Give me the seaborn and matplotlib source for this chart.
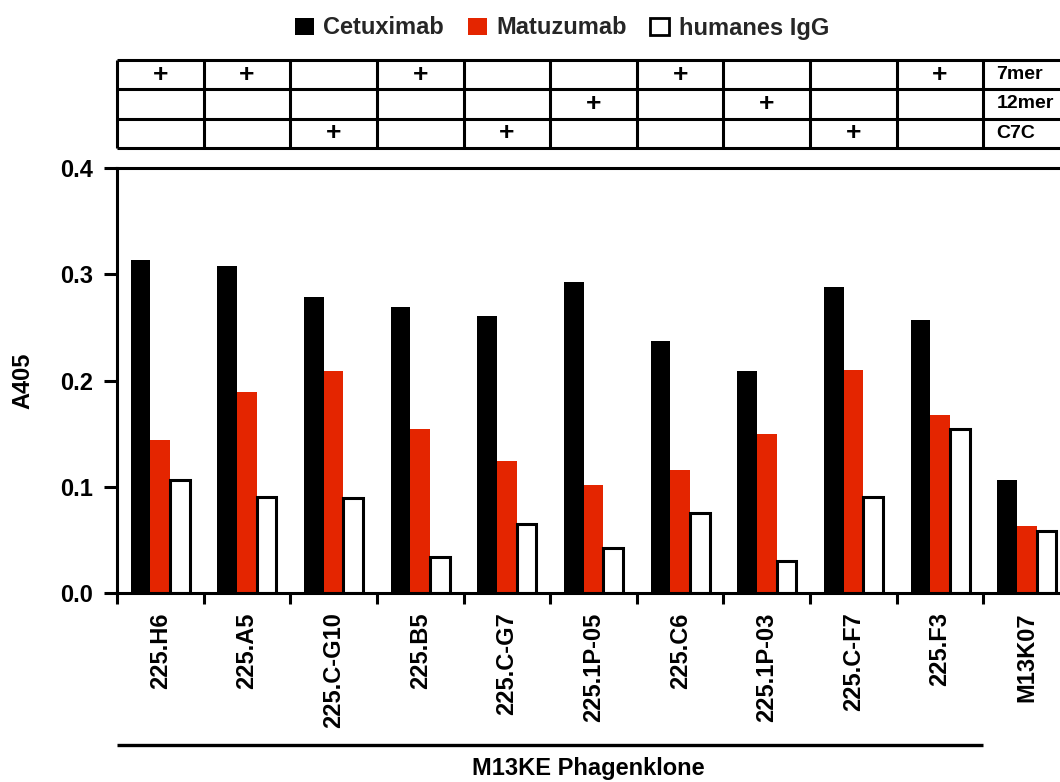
import numpy as np
import pandas as pd
import seaborn as sns
import matplotlib
matplotlib.use("Agg")
import matplotlib.pyplot as plt
from matplotlib.patches import Patch
from matplotlib import font_manager
import matplotlib.transforms as mtransforms

# ---------------- data ----------------
clones = ["225.H6", "225.A5", "225.C-G10", "225.B5", "225.C-G7", "225.1P-05",
          "225.C6", "225.1P-03", "225.C-F7", "225.F3", "M13K07"]
cetuximab = [0.313, 0.308, 0.279, 0.269, 0.261, 0.293, 0.237, 0.209, 0.288, 0.257, 0.106]
matuzumab = [0.144, 0.189, 0.209, 0.154, 0.124, 0.102, 0.116, 0.150, 0.210, 0.168, 0.063]
human_igg = [0.106, 0.090, 0.089, 0.034, 0.065, 0.042, 0.075, 0.030, 0.090, 0.154, 0.058]
antibodies = ["Cetuximab", "Matuzumab", "humanes IgG"]
colors = ["#000000", "#E42500", "#FFFFFF"]

library_labels = ["7mer", "12mer", "C7C"]
lib_7mer = [1, 1, 0, 1, 0, 0, 1, 0, 0, 1]
lib_12mer = [0, 0, 0, 0, 0, 1, 0, 1, 0, 0]
lib_c7c = [0, 0, 1, 0, 1, 0, 0, 0, 1, 0]

y_ticks = [0.0, 0.1, 0.2, 0.3, 0.4]

df = pd.DataFrame({
    "clone": clones * 3,
    "A405": cetuximab + matuzumab + human_igg,
    "antibody": sum([[a] * len(clones) for a in antibodies], []),
})

# ---------------- style ----------------
sns.set_theme(style="white")
available = {f.name for f in font_manager.fontManager.ttflist}
if "Liberation Sans Narrow" in available:
    main_font = "Liberation Sans Narrow"
    FS = 21          # main text size
    FS_TAB = 17      # table row labels
    FS_PLUS = 20
elif "DejaVu Sans Condensed" in available:
    main_font = "DejaVu Sans Condensed"
    FS = 18
    FS_TAB = 14
    FS_PLUS = 19
else:
    main_font = "Liberation Sans"
    FS = 17
    FS_TAB = 14
    FS_PLUS = 19
plt.rcParams["font.family"] = [main_font, "Liberation Sans", "DejaVu Sans"]
plt.rcParams["font.weight"] = "bold"
plt.rcParams["axes.labelweight"] = "bold"

W, H = 1060, 782
fig = plt.figure(figsize=(W / 100, H / 100), dpi=100)

ax_left = 117 / W
ax_width = (1070 - 117) / W
ax = fig.add_axes([ax_left, (H - 593) / H, ax_width, (593 - 168) / H])

sns.barplot(data=df, x="clone", y="A405", hue="antibody", order=clones,
            hue_order=antibodies, palette=colors, saturation=1, width=0.68,
            errorbar=None, legend=False, ax=ax)

for i, cont in enumerate(ax.containers):
    for bar in cont:
        if i == 2:
            bar.set_edgecolor("black")
            bar.set_linewidth(2.2)
        else:
            bar.set_linewidth(0)

ax.set_xlim(-0.5, len(clones) - 0.5)
ax.set_ylim(0, 0.4)
ax.set_yticks(y_ticks)
ax.set_yticklabels([f"{v:.1f}" for v in y_ticks], fontsize=FS, fontweight="bold")
ax.set_xticks(range(len(clones)))
ax.set_xticklabels(clones, rotation=90, fontsize=FS, fontweight="bold", va="top")
ax.set_xticks(np.arange(-0.5, len(clones) - 0.5, 1), minor=True)
ax.tick_params(axis="x", which="major", length=0, pad=14, colors="black")
ax.tick_params(axis="x", which="minor", length=8, width=2.2, direction="out",
               bottom=True, color="black")
ax.tick_params(axis="y", length=9.5, width=2.2, pad=8, left=True, colors="black")

for side in ["left", "bottom", "top"]:
    ax.spines[side].set_visible(True)
    ax.spines[side].set_linewidth(2.2)
    ax.spines[side].set_color("black")
ax.spines["right"].set_visible(False)

ax.set_ylabel("A405", fontsize=FS, fontweight="bold", color="black")
ax.yaxis.label.set_verticalalignment("center")
ax.yaxis.set_label_coords((23 - 117) / (1070 - 117), 0.5)

ax.set_xlabel("M13KE Phagenklone", fontsize=FS, fontweight="bold", color="black")
ax.xaxis.label.set_verticalalignment("center")
ax.xaxis.set_label_coords((588 - 117) / (1070 - 117), (593 - 768) / (593 - 168))

# bracket line under the phage clones
trans = mtransforms.blended_transform_factory(ax.transData, ax.transAxes)
ax.plot([-0.5, 9.5], [(593 - 745) / (593 - 168)] * 2, color="black", lw=2.4,
        transform=trans, clip_on=False, solid_capstyle="butt")

# ---------------- library table ----------------
tab = fig.add_axes([ax_left, (H - 148) / H, ax_width, (148 - 60) / H])
tab.set_xlim(ax.get_xlim())
tab.set_ylim(0, 3)
tab.axis("off")
for yy in [0, 1, 2, 3]:
    tab.plot([-0.5, 10.6], [yy, yy], color="black", lw=2.2, clip_on=False,
             solid_capstyle="butt")
for xx in np.arange(-0.5, 10.0, 1):
    tab.plot([xx, xx], [0, 3], color="black", lw=2.2, clip_on=False,
             solid_capstyle="butt")

rows = [lib_7mer, lib_12mer, lib_c7c]
for r, (vals, lab) in enumerate(zip(rows, library_labels)):
    yc = 2.5 - r
    for c, v in enumerate(vals):
        if v:
            tab.text(c, yc, "+", ha="center", va="center", fontsize=FS_PLUS,
                     fontweight="bold", color="black")
    tab.text(9.65, yc, lab, ha="left", va="center", fontsize=FS_TAB,
             fontweight="bold", color="black")

# ---------------- legend ----------------
handles = [Patch(facecolor=c, edgecolor="black", linewidth=2.0 if c == "#FFFFFF" else 0)
           for c in colors]
fig.legend(handles, antibodies, loc="center", bbox_to_anchor=(562 / W, 1 - 28 / H),
           ncol=3, frameon=False, handlelength=0.8, handleheight=0.75,
           handletextpad=0.4, columnspacing=1.0, borderaxespad=0,
           prop={"weight": "bold", "size": FS})

fig.savefig("out.png", dpi=100, facecolor="white")
